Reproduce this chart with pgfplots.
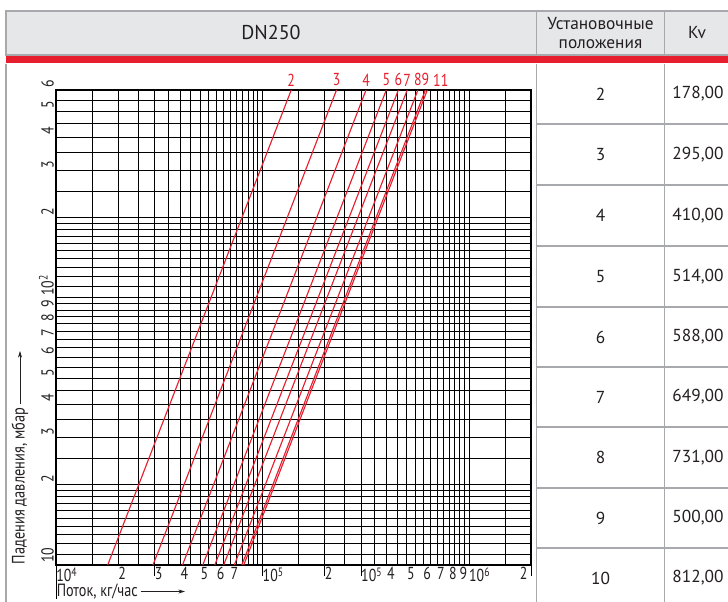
\documentclass[border=0pt]{standalone}
\usepackage{fontspec}
\setmainfont{PT Sans}
\newfontfamily\cond[FakeStretch=0.8]{PT Sans}
\usepackage{pgfplots}
\pgfplotsset{compat=1.18}
\usetikzlibrary{arrows.meta}
\definecolor{kvred}{RGB}{230,30,45}
\definecolor{hdrgray}{RGB}{230,231,232}
\definecolor{rulegray}{RGB}{167,169,172}
\definecolor{ink}{RGB}{35,31,32}

\begin{document}
\begin{tikzpicture}[
  kvline/.style={kvred, solid, line width=0.85pt},
  lbl/.style={text=kvred, font=\cond\fontsize{13}{14}\selectfont, inner sep=1pt, anchor=south, yshift=1.5pt}]
\begin{scope}[x=0.75pt,y=0.75pt]
\path[use as bounding box] (0,0) rectangle (728,601);
% header row
\fill[hdrgray] (6,546) rectangle (740,590);
\draw[rulegray, line width=0.9pt] (6,546) rectangle (740,590);
\draw[rulegray, line width=0.9pt] (536.5,546) -- (536.5,590) (664.5,546) -- (664.5,590);
\fill[kvred] (6,537.5) rectangle (740,544.5);
% body rules
\draw[rulegray, line width=0.9pt] (6,537) -- (6,-5) (536.5,537) -- (536.5,-5) (664.5,537) -- (664.5,-5);
\foreach \yy in {477,416,355,294,234,174,113,53}
  \draw[rulegray, line width=0.9pt] (536.5,\yy) -- (740,\yy);
% header text
\node[text=ink, font=\fontsize{15}{17}\selectfont] at (271,568) {DN250};
\node[text=ink, font=\fontsize{13}{14.5}\selectfont, align=center] at (600.5,568) {Установочные\\положения};
\node[text=ink, font=\fontsize{13}{15}\selectfont] at (697,568) {Kv};
% table rows: setting / Kv
\foreach \p/\k/\yy in {2/{178,00}/507, 3/{295,00}/446.5, 4/{410,00}/385.5, 5/{514,00}/324.5,
    6/{588,00}/264, 7/{649,00}/204, 8/{731,00}/143.5, 9/{500,00}/83, 10/{812,00}/23}{
  \node[text=ink, font=\fontsize{13}{15}\selectfont] at (600.5,\yy) {\p};
  \node[text=ink, font=\fontsize{13}{15}\selectfont] at (698,\yy) {\k};
}
\end{scope}

\begin{axis}[
  at={(42pt,27pt)}, anchor=south west,
  scale only axis, width=356.25pt, height=356.25pt,
  xmode=log, ymode=log,
  xmin=1e4, xmax=2e6, ymin=10, ymax=600,
  clip=false,
  axis line style={black, line width=0.8pt},
  tick pos=left,
  major tick length=0pt, minor tick length=0pt,
  grid=both,
  major grid style={black, line width=0.55pt},
  minor grid style={black, line width=0.55pt},
  xtick={1e4,2e4,3e4,4e4,5e4,6e4,7e4,1e5,2e5,3e5,4e5,5e5,6e5,7e5,8e5,9e5,1e6},
  xticklabels={10\textsuperscript{4},2,3,4,5,6,7,10\textsuperscript{5},2,10\textsuperscript{5},4,5,6,7,8,9,10\textsuperscript{6}},
  minor xtick={1.5e4,2.5e4,3.5e4,4.5e4,5.5e4,6.5e4,7.5e4,8e4,8.5e4,9e4,9.5e4,
               1.5e5,2.5e5,3.5e5,4.5e5,5.5e5,6.5e5,7.5e5,8.5e5,9.5e5,1.5e6},
  ytick={10,20,30,40,50,60,70,80,90,100,200,300,400,500,600},
  yticklabels={10,2,3,4,5,6,7,8,9,10\textsuperscript{2},2,3,4,5,6},
  minor ytick={11,12,13,14,15,16,17,18,19,25,35,45,55,65,75,85,95,
               110,120,130,140,150,160,170,180,190,250,350,450,550},
  xticklabel style={font=\cond\fontsize{13}{13}\selectfont, text=ink,
                    anchor=north west, inner sep=0.5pt, xshift=-0.5pt, yshift=-1.2pt},
  yticklabel style={font=\cond\fontsize{13}{13}\selectfont, text=ink,
                    rotate=90, anchor=south west, inner sep=1.5pt},
  extra x ticks={3e4,1e5,2e5,3e5,2e6},
  extra x tick labels={,,,,2},
  extra x tick style={major tick length=8pt, tick align=outside,
                      tick style={black, line width=0.55pt},
                      xticklabel style={anchor=north east, xshift=-1.5pt, yshift=8pt}},
  extra y ticks={200},
  extra y tick labels={},
  extra y tick style={major grid style={black, line width=1.3pt}},
]
% Q [kg/h] at 10 mbar and 600 mbar for each setting
\addplot[kvline] coordinates {(17800,10) (137878,600)} node[pos=1, lbl] {2};
\addplot[kvline] coordinates {(29500,10) (228506,600)} node[pos=1, lbl] {3};
\addplot[kvline] coordinates {(41000,10) (317585,600)} node[pos=1, lbl] {4};
\addplot[kvline] coordinates {(51400,10) (398143,600)} node[pos=1, lbl] {5};
\addplot[kvline] coordinates {(58800,10) (455463,600)} node[pos=1, lbl] {6};
\addplot[kvline] coordinates {(64900,10) (502713,600)} node[pos=1, lbl] {7};
\addplot[kvline] coordinates {(73100,10) (566230,600)} node[pos=1, lbl] {8};
\addplot[kvline] coordinates {(79500,10) (615805,600)} node[pos=1, lbl] {9};
\addplot[kvline] coordinates {(81200,10) (628973,600)} node[pos=1, lbl, anchor=south west, xshift=3pt] {11};
\end{axis}

\begin{scope}[x=0.75pt,y=0.75pt]
\draw[black, line width=0.55pt] (56,36) -- (56,2);
\node[text=ink, font=\cond\fontsize{13.3}{15}\selectfont, anchor=west, inner sep=0pt] (xl) at (56.5,9.5) {Поток, кг/час};
\draw[ink, line width=0.5pt, -{Stealth[length=5pt,width=3pt]}] ([xshift=2pt]xl.east) -- (185,9.5);
\node[text=ink, font=\cond\fontsize{13.5}{15}\selectfont, rotate=90, anchor=west, inner sep=0.5pt] (yl) at (20,36) {Падения давления, мбар};
\draw[ink, line width=0.5pt, -{Stealth[length=5pt,width=3pt]}] ([yshift=2pt]yl.east) -- (20,250);
\end{scope}
\end{tikzpicture}
\end{document}
